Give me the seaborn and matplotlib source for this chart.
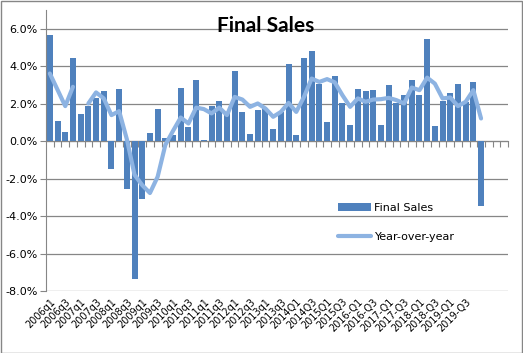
import numpy as np
import pandas as pd
import seaborn as sns
import matplotlib
matplotlib.use('Agg')
import matplotlib.pyplot as plt
from matplotlib.patches import Rectangle
from matplotlib.ticker import FuncFormatter

# quarterly series, 2006q1 .. 2020Q1 (values in %)
final_sales = [5.65, 1.07, 0.48, 4.43, 1.44, 1.87, 2.3, 2.67, -1.51, 2.77,
               -2.53, -7.38, -3.11, 0.41, 1.74, 0.15, 0.32, 2.83, 0.76, 3.29,
               0.05, 1.87, 2.13, 1.55, 3.73, 1.55, 0.37, 1.65, 1.79, 0.64,
               1.53, 4.11, 0.32, 4.43, 4.8, 3.04, 1.01, 3.47, 2.01, 0.85,
               2.77, 2.67, 2.72, 0.85, 2.99, 2.01, 2.45, 3.25, 2.45, 5.44,
               0.8, 2.15, 2.56, 3.04, 2.1, 3.15, -3.47]
year_over_year = [3.61, 2.74, 1.87, 2.9, np.nan, 2.01, 2.6, 2.28, 1.39, 1.6,
                  0.1, -1.8, -2.35, -2.77, -1.9, -0.2, 0.55, 1.26, 0.94, 1.79,
                  1.71, 1.48, 1.79, 1.39, 2.36, 2.22, 1.83, 2.01, 1.74, 1.3,
                  1.56, 2.04, 1.56, 2.36, 3.34, 3.16, 3.31, 3.14, 2.45, 1.83,
                  2.28, 2.1, 2.22, 2.24, 2.31, 2.19, 2.01, 2.86, 2.72, 3.39,
                  3.07, 2.28, 2.33, 1.87, 2.1, 2.72, 1.21]
tick_labels = ['2006q1', '2006q3', '2007q1', '2007q3', '2008q1', '2008q3',
               '2009q1', '2009q3', '2010q1', '2010q3', '2011q1', '2011q3',
               '2012q1', '2012q3', '2013q1', '2013q3', '2014Q1', '2014Q3',
               '2015Q1', '2015Q3', '2016-Q1', '2016-Q3', '2017-Q1', '2017-Q3',
               '2018-Q1', '2018-Q3', '2019-Q1', '2019-Q3']

quarters = [f'{y}-Q{q}' for y in range(2006, 2021) for q in range(1, 5)]
df = pd.DataFrame({'quarter': quarters[:len(final_sales)], 'sales': final_sales})

BAR = '#4f81bd'
LINE = '#8db3e2'
GRID = '#868686'

fig = plt.figure(figsize=(5.23, 3.53), dpi=100)
ax = fig.add_axes([46 / 523, 1 - 291 / 353, 462 / 523, 281 / 353])

sns.barplot(data=df, x='quarter', y='sales', order=quarters, color=BAR,
            saturation=1, width=0.78, errorbar=None, ax=ax, label='Final Sales')
ax.plot(np.arange(len(year_over_year)), year_over_year, color=LINE, lw=3,
        solid_capstyle='round', solid_joinstyle='round', label='Year-over-year')

ymin, ymax = -8, 7
ax.set_ylim(ymin, ymax)
ax.set_xlim(-0.5, len(quarters) - 0.5)
ax.set_yticks(np.arange(-8, 7, 2))
ax.yaxis.set_major_formatter(FuncFormatter(lambda v, p: f'{v:.1f}%'))
ax.yaxis.grid(True, color=GRID, lw=0.9)
ax.set_axisbelow(True)
ax.tick_params(axis='y', labelsize=8, length=4, color=GRID, pad=2)

ax.set_xticks(np.arange(0, 2 * len(tick_labels), 2))
ax.set_xticklabels(tick_labels, rotation=45, ha='right', rotation_mode='anchor', fontsize=7)
ax.tick_params(axis='x', length=0, pad=4)
ax.set_xlabel('')
ax.set_ylabel('')

for s in ['top', 'right', 'bottom']:
    ax.spines[s].set_visible(False)
ax.spines['left'].set_color(GRID)

# category axis crossing at zero, with tick marks between categories
zero = ax.secondary_xaxis((0 - ymin) / (ymax - ymin))
zero.xaxis.set_ticks_position('bottom')
zero.set_xticks(np.arange(len(quarters)) + 0.5)
zero.set_xticklabels([])
zero.tick_params(axis='x', which='both', direction='out', length=4, color=GRID,
                 bottom=True, top=False)
zero.spines['top'].set_visible(False)
zero.spines['bottom'].set_visible(True)
zero.spines['bottom'].set_color(GRID)

ax.text(0.476, 0.943, 'Final Sales', transform=ax.transAxes, ha='center', va='center',
        fontsize=15, fontweight='bold', family='Lato')

handles, labels = ax.get_legend_handles_labels()
order = [labels.index('Final Sales'), labels.index('Year-over-year')]
ax.legend([handles[i] for i in order], [labels[i] for i in order],
          loc='upper left', bbox_to_anchor=(0.61, 0.35), frameon=False, fontsize=8,
          handlelength=3, labelspacing=1.7, handletextpad=0.3)

fig.patches.append(Rectangle((0.001, 0.001), 0.997, 0.996, transform=fig.transFigure,
                             fill=False, edgecolor=GRID, lw=1))

fig.savefig('out.png', dpi=100)
